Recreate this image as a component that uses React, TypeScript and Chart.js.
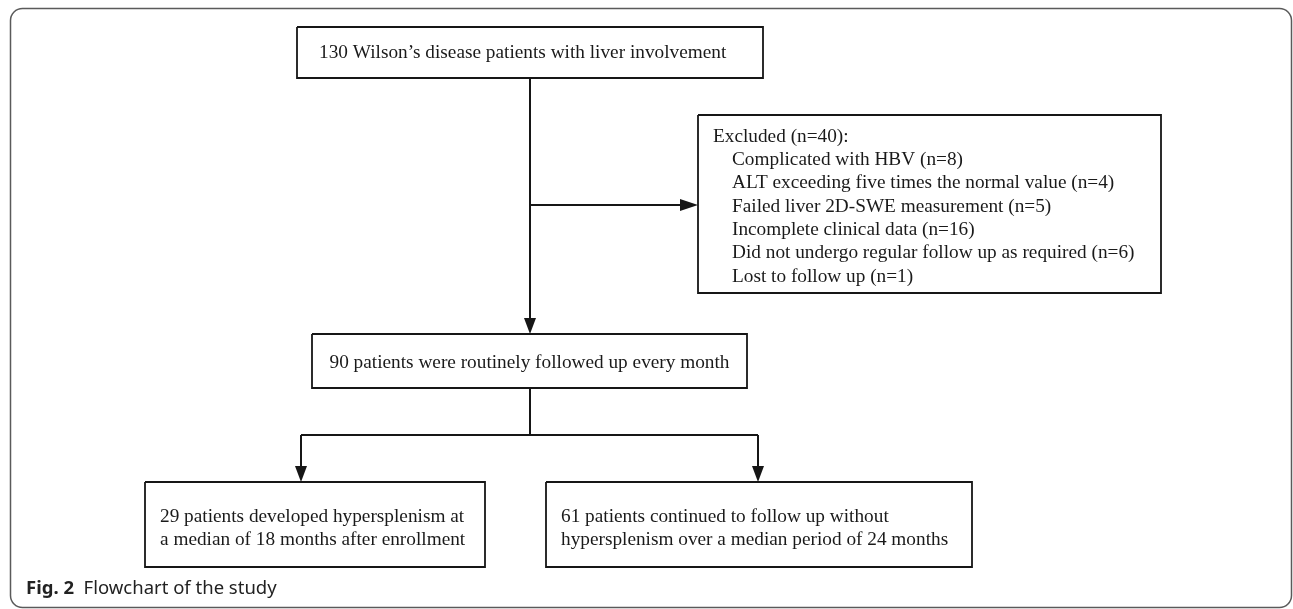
import React, { useEffect, useRef } from "react";
import { Chart, registerables } from "chart.js";
Chart.register(...registerables);

// ---- content ----
const topText = "130 Wilson’s disease patients with liver involvement";
const excludedTitle = "Excluded (n=40):";
const excludedReasons = [
  "Complicated with HBV",
  "ALT exceeding five times the normal value",
  "Failed liver 2D-SWE measurement",
  "Incomplete clinical data",
  "Did not undergo regular follow up as required",
  "Lost to follow up",
];
const excludedCounts = [8, 4, 5, 16, 6, 1];
const followedText = "90 patients were routinely followed up every month";
const leftOutcome = ["29 patients developed hypersplenism at", "a median of 18 months after enrollment"];
const rightOutcome = ["61 patients continued to follow up without", "hypersplenism over a median period of 24 months"];
const captionBold = "Fig. 2";
const captionText = "Flowchart of the study";

// ---- layout (pixel coordinate space of the figure) ----
const W = 1293;
const H = 609;
const boxTop = { x1: 297, y1: 27, x2: 763, y2: 78 };
const boxExcl = { x1: 698, y1: 115, x2: 1161, y2: 293 };
const boxMid = { x1: 312, y1: 334, x2: 747, y2: 388 };
const boxLeft = { x1: 145, y1: 482, x2: 485, y2: 567 };
const boxRight = { x1: 546, y1: 482, x2: 972, y2: 567 };
const trunkX = 530;
const exclY = 205;
const branchY = 435;
const leftArrowX = 301;
const rightArrowX = 758;
const ARROW_LEN = 16;
const ARROW_HALF = 6;

const INK = "#161616";

function rectPts(b: { x1: number; y1: number; x2: number; y2: number }) {
  return [
    { x: b.x1, y: b.y1 },
    { x: b.x2, y: b.y1 },
    { x: b.x2, y: b.y2 },
    { x: b.x1, y: b.y2 },
    { x: b.x1, y: b.y1 },
  ];
}

const connectors = [
  { a: { x: trunkX, y: boxTop.y2 }, b: { x: trunkX, y: boxMid.y1 }, arrow: "down" },
  { a: { x: trunkX, y: exclY }, b: { x: boxExcl.x1, y: exclY }, arrow: "right" },
  { a: { x: trunkX, y: boxMid.y2 }, b: { x: trunkX, y: branchY }, arrow: "" },
  { a: { x: leftArrowX, y: branchY }, b: { x: rightArrowX, y: branchY }, arrow: "" },
  { a: { x: leftArrowX, y: branchY }, b: { x: leftArrowX, y: boxLeft.y1 }, arrow: "down" },
  { a: { x: rightArrowX, y: branchY }, b: { x: rightArrowX, y: boxRight.y1 }, arrow: "down" },
];

const SERIF = '"Liberation Serif", "Times New Roman", serif';
const SANS = '"Noto Sans", "Open Sans", sans-serif';
const SERIF_SIZE = 19.3;

export default function App() {
  const ref = useRef<HTMLCanvasElement | null>(null);

  useEffect(() => {
    const canvas = ref.current;
    if (!canvas) return;

    const datasets: any[] = [];
    [boxTop, boxExcl, boxMid, boxLeft, boxRight].forEach((b) => {
      datasets.push({
        data: rectPts(b),
        showLine: true,
        borderColor: INK,
        borderWidth: 1.8,
        pointRadius: 0,
        fill: false,
        tension: 0,
      });
    });
    connectors.forEach((c) => {
      const end = { ...c.b };
      if (c.arrow === "down") end.y -= ARROW_LEN - 1;
      if (c.arrow === "right") end.x -= ARROW_LEN - 1;
      datasets.push({
        data: [c.a, end],
        showLine: true,
        borderColor: INK,
        borderWidth: 2,
        pointRadius: 0,
        fill: false,
      });
    });

    const flowPlugin = {
      id: "flow",
      beforeDatasetsDraw(chart: any) {
        const ctx = chart.ctx;
        ctx.save();
        ctx.strokeStyle = "#5a5a5a";
        ctx.lineWidth = 1.5;
        ctx.beginPath();
        (ctx as any).roundRect(10.5, 8.5, 1281, 599, 12);
        ctx.stroke();
        ctx.restore();
      },
      afterDatasetsDraw(chart: any) {
        const ctx: CanvasRenderingContext2D = chart.ctx;
        const xs = chart.scales.x;
        const ys = chart.scales.y;
        const px = (v: number) => xs.getPixelForValue(v);
        const py = (v: number) => ys.getPixelForValue(v);
        ctx.save();
        ctx.fillStyle = INK;
        connectors.forEach((c) => {
          const tx = px(c.b.x);
          const ty = py(c.b.y);
          if (c.arrow === "down") {
            ctx.beginPath();
            ctx.moveTo(tx, ty);
            ctx.lineTo(tx - ARROW_HALF, ty - ARROW_LEN);
            ctx.lineTo(tx + ARROW_HALF, ty - ARROW_LEN);
            ctx.closePath();
            ctx.fill();
          } else if (c.arrow === "right") {
            ctx.beginPath();
            ctx.moveTo(tx, ty);
            ctx.lineTo(tx - ARROW_LEN - 2, ty - ARROW_HALF);
            ctx.lineTo(tx - ARROW_LEN - 2, ty + ARROW_HALF);
            ctx.closePath();
            ctx.fill();
          }
        });

        ctx.fillStyle = "#1a1a1a";
        ctx.font = `${SERIF_SIZE}px ${SERIF}`;
        ctx.textBaseline = "middle";
        ctx.textAlign = "left";
        ctx.fillText(topText, px(319), py(53));
        ctx.textAlign = "center";
        ctx.fillText(followedText, px((boxMid.x1 + boxMid.x2) / 2), py(363));
        ctx.textAlign = "left";
        ctx.fillText(excludedTitle, px(713), py(137));
        excludedReasons.forEach((r, i) => {
          ctx.fillText(`${r} (n=${excludedCounts[i]})`, px(732), py(160 + i * 23.3));
        });
        leftOutcome.forEach((t, i) => ctx.fillText(t, px(160), py(517 + i * 23)));
        rightOutcome.forEach((t, i) => ctx.fillText(t, px(561), py(517 + i * 23)));

        ctx.fillStyle = "#222";
        ctx.font = `bold 18.5px ${SANS}`;
        ctx.fillText(captionBold, px(26), py(589));
        const bw = ctx.measureText(captionBold + "  ").width;
        ctx.font = `18.5px ${SANS}`;
        ctx.fillText(captionText, px(26) + bw, py(589));
        ctx.restore();
      },
    };

    const chart = new Chart(canvas, {
      type: "scatter",
      data: { datasets },
      options: {
        animation: false,
        responsive: false,
        events: [],
        layout: { padding: 0 },
        plugins: { legend: { display: false }, tooltip: { enabled: false } },
        scales: {
          x: { type: "linear", min: 0, max: W, display: false },
          y: { type: "linear", min: 0, max: H, reverse: true, display: false },
        },
      },
      plugins: [flowPlugin],
    });
    return () => chart.destroy();
  }, []);

  return (
    <div style={{ position: "absolute", left: 0, top: 0, width: W, height: H, background: "#fff" }}>
      <canvas ref={ref} width={W} height={H} style={{ display: "block", width: W, height: H }} />
    </div>
  );
}
